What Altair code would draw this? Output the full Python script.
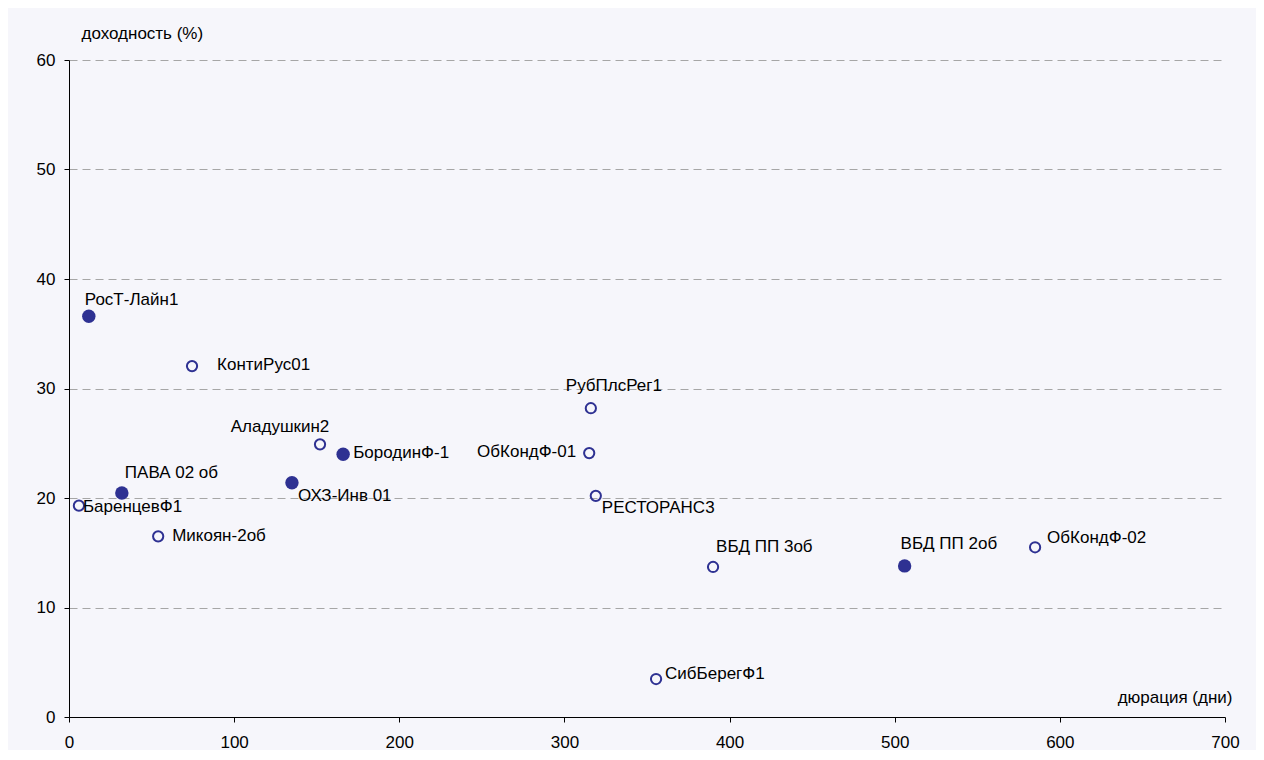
import altair as alt
import pandas as pd

names = ["РосТ-Лайн1", "КонтиРус01", "Аладушкин2", "БородинФ-1", "ПАВА 02 об",
         "БаренцевФ1", "Микоян-2об", "ОХЗ-Инв 01", "РубПлсРег1", "ОбКондФ-01",
         "РЕСТОРАНС3", "ВБД ПП 3об", "СибБерегФ1", "ВБД ПП 2об", "ОбКондФ-02"]
duration = [12, 74.5, 152, 166, 32, 6, 54, 135, 316, 315, 319, 390, 355.5, 506, 585]
yields = [36.6, 32.05, 24.9, 24.0, 20.45, 19.3, 16.5, 21.4, 28.2, 24.1, 20.2, 13.7, 3.47, 13.8, 15.5]
kind = ["filled", "hollow", "hollow", "filled", "filled", "hollow", "hollow", "filled",
        "hollow", "hollow", "hollow", "hollow", "hollow", "filled", "hollow"]

x_ticks = [0, 100, 200, 300, 400, 500, 600, 700]
y_ticks = [0, 10, 20, 30, 40, 50, 60]

# label placement (align, dx, dy) per point
label_pos = {
    "РосТ-Лайн1": ("left", -4, -16),
    "КонтиРус01": ("left", 25, -1),
    "Аладушкин2": ("center", -40, -17),
    "БородинФ-1": ("left", 10, -1),
    "ПАВА 02 об": ("left", 3, -20),
    "БаренцевФ1": ("left", 4, 1),
    "Микоян-2об": ("left", 14, 0),
    "ОХЗ-Инв 01": ("left", 6, 13),
    "РубПлсРег1": ("center", 23, -22),
    "ОбКондФ-01": ("right", -13, -1),
    "РЕСТОРАНС3": ("left", 6, 12),
    "ВБД ПП 3об": ("left", 3, -20),
    "СибБерегФ1": ("left", 9, -5),
    "ВБД ПП 2об": ("left", -4, -22),
    "ОбКондФ-02": ("left", 12, -9),
}

df = pd.DataFrame({"name": names, "dur": duration, "yld": yields, "kind": kind})

FONT = "Liberation Sans"
FS = 17
NAVY = "#2E3192"

x_enc = alt.X("dur:Q", scale=alt.Scale(domain=[0, 700], nice=False),
              axis=alt.Axis(values=x_ticks, grid=False, domainColor="#000", tickColor="#000",
                            tickSize=5, labelPadding=12, labelFontSize=FS, labelFont=FONT,
                            labelColor="#000", labelFlush=False, labelOverlap=False,
                            title="дюрация (дни)", titleFont=FONT,
                            titleFontSize=FS, titleFontWeight="normal", titleColor="#000",
                            titleAnchor="end", titleAlign="right", titleBaseline="middle",
                            titleX=1163, titleY=-20))
y_enc = alt.Y("yld:Q", scale=alt.Scale(domain=[0, 60], nice=False),
              axis=alt.Axis(values=y_ticks, grid=True, gridColor="#A6A6A6", gridDash=[8, 5],
                            gridWidth=1, domainColor="#000", tickColor="#000", tickSize=5,
                            labelPadding=9, labelFontSize=FS, labelFont=FONT, labelColor="#000",
                            labelFlush=False, labelOverlap=False,
                            title="доходность (%)", titleFont=FONT, titleFontSize=FS,
                            titleFontWeight="normal", titleColor="#000", titleAngle=0,
                            titleAlign="left", titleBaseline="middle", titleX=12, titleY=-27))

base = alt.Chart(df)

filled = base.transform_filter(alt.datum.kind == "filled").mark_point(
    shape="circle", filled=True, size=180, color=NAVY, opacity=1
).encode(x=x_enc, y=y_enc)

hollow = base.transform_filter(alt.datum.kind == "hollow").mark_point(
    shape="circle", filled=False, size=105, stroke=NAVY, strokeWidth=2, opacity=1
).encode(x="dur:Q", y="yld:Q")

labels = []
for n in names:
    al, dx, dy = label_pos[n]
    labels.append(
        base.transform_filter(alt.datum.name == n).mark_text(
            align=al, baseline="middle", dx=dx, dy=dy, font=FONT, fontSize=FS, color="#000"
        ).encode(x="dur:Q", y="yld:Q", text="name:N")
    )

chart = alt.layer(filled, hollow, *labels).properties(
    width=1156, height=657,
    padding={"left": 61, "top": 52, "right": 31, "bottom": 33},
    autosize=alt.AutoSizeParams(type="none"),
    background="#F6F6FB",
).configure_view(strokeWidth=0, fill="#F6F6FB")

chart.save("out.html", embed_options={"renderer": "svg", "actions": False})
